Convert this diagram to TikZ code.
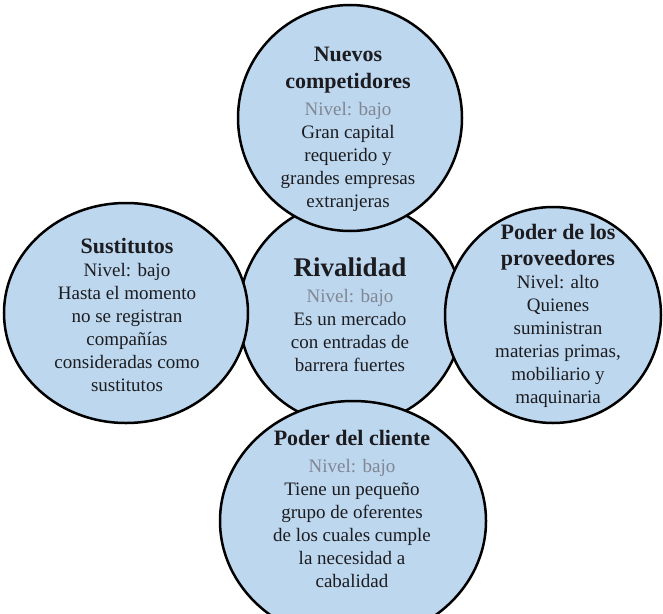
\documentclass[tikz,border=0pt]{standalone}
\usepackage{fontspec}
\setmainfont{Liberation Serif}
\usetikzlibrary{shapes.geometric}
\definecolor{cfill}{RGB}{189,215,238}
\definecolor{ctext}{RGB}{28,28,32}
\definecolor{cblur}{RGB}{128,134,146}
\newcommand{\ttlf}{\fontsize{22}{23}\selectfont\bfseries}
\newcommand{\bdyf}{\fontsize{19}{23}\selectfont}
\newcommand{\rivf}{\fontsize{27}{23}\selectfont\bfseries}
\tikzset{
  ball/.style={ellipse, draw=black, line width=2.5pt, fill=cfill, inner sep=0pt},
  txt/.style={align=center, text=ctext, inner sep=0pt, font=\bdyf},
}
\begin{document}
\begin{tikzpicture}[x=1pt,y=-1pt]
\useasboundingbox (0,0) rectangle (663,613);
\clip (0,0) rectangle (663,613);
% circles (centre first, others on top)
\node[ball, minimum width=224pt, minimum height=224pt] (cen) at (351,313) {};
\node[ball, minimum width=224pt, minimum height=226pt] (top) at (350,118) {};
\node[ball, minimum width=266pt, minimum height=240pt] (bot) at (353,521) {};
\node[ball, minimum width=244pt, minimum height=220pt] (lft) at (126,313) {};
\node[ball, minimum width=216pt, minimum height=216pt] (rgt) at (553,315) {};
% texts
\node[txt] (ttop) at (348,129) {{\ttlf Nuevos}\\[4pt]{\ttlf competidores}\\[4pt]
  \textcolor{cblur}{Nivel: bajo}\\Gran capital\\requerido y\\grandes empresas\\extranjeras};
\node[txt] (tlft) at (127,315) {{\ttlf Sustitutos}\\Nivel: bajo\\Hasta el momento\\no se registran\\compañías\\consideradas como\\sustitutos};
\node[txt] (tcen) at (350,315) {{\rivf Rivalidad}\\[3pt]\textcolor{cblur}{Nivel: bajo}\\Es un mercado\\con entradas de\\barrera fuertes};
\node[txt] (trgt) at (558,316) {{\ttlf Poder de los}\\[3pt]{\ttlf proveedores}\\Nivel: alto\\Quienes\\suministran\\materias primas,\\mobiliario y\\maquinaria};
\node[txt] (tbot) at (352,509) {{\ttlf Poder del cliente}\\[4pt]\textcolor{cblur}{Nivel: bajo}\\Tiene un pequeño\\grupo de oferentes\\de los cuales cumple\\la necesidad a\\cabalidad};
\end{tikzpicture}
\end{document}
